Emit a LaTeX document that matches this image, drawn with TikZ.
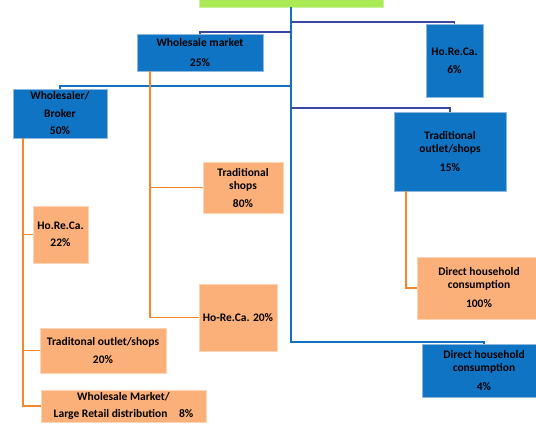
\documentclass[tikz,border=0pt]{standalone}
\usepackage{fontspec}
\setmainfont{Carlito}
\definecolor{boxblue}{HTML}{0F74C4}
\definecolor{boxblueedge}{HTML}{8FB8E0}
\definecolor{boxorange}{HTML}{FBB07A}
\definecolor{boxorangeedge}{HTML}{FDD5B5}
\definecolor{lineblue}{HTML}{1470C4}
\definecolor{linedark}{HTML}{3848A4}
\definecolor{lineorange}{HTML}{F7862A}
\definecolor{topgreen}{HTML}{AAEA55}
\begin{document}
\begin{tikzpicture}[x=1pt,y=-1pt,
  boxbase/.style={rectangle, inner sep=0pt, align=center, text=black,
    font=\bfseries\fontsize{11.5}{13}\selectfont, line width=0.6pt},
  bluebox/.style={boxbase, fill=boxblue, draw=boxblueedge},
  orangebox/.style={boxbase, fill=boxorange, draw=boxorangeedge},
  greenbox/.style={rectangle, inner sep=0pt, fill=topgreen, draw=topgreen!60!white, line width=0.6pt},
  blueline/.style={draw=lineblue, line width=1.6pt},
  darkline/.style={draw=linedark, line width=1.6pt},
  orangeline/.style={draw=lineorange, line width=1.8pt}]
\useasboundingbox (0,0) rectangle (536,424);
\fill[white] (0,0) rectangle (536,424);

% nodes
\node[greenbox, minimum width=184pt, minimum height=28pt] (green) at (291,-7) {};
\node[bluebox, minimum width=126pt, minimum height=37pt] (wm) at (200,52.5) {Wholesale market\\[7pt]25\%};
\node[bluebox, minimum width=57pt, minimum height=73pt] (ho6) at (454.5,60.5) {Ho.Re.Ca.\\[5pt]6\%};
\node[bluebox, minimum width=94pt, minimum height=49pt] (wb) at (60,113.5) {Wholesaler/\\[4.5pt]Broker\\[4.5pt]50\%};
\node[bluebox, minimum width=112pt, minimum height=79pt] (tos15) at (450,151.5) {Traditional\\outlet/shops\\[6pt]15\%};
\node[orangebox, minimum width=80pt, minimum height=51pt] (ts80) at (243,187.5) {Traditional\\shops\\[5pt]80\%};
\node[orangebox, minimum width=78pt, minimum height=67pt] (hr20) at (238,317.5) {Ho-Re.Ca. 20\%};
\node[orangebox, minimum width=55pt, minimum height=57pt] (hr22) at (60.5,234.5) {Ho.Re.Ca.\\[4pt]22\%};
\node[orangebox, minimum width=126pt, minimum height=45pt] (to20) at (103,350.5) {Traditonal outlet/shops\\[5pt]20\%};
\node[orangebox, minimum width=165pt, minimum height=32pt] (wmlr) at (123.5,406) {Wholesale Market/\\[4pt]Large Retail distribution\hspace{1em}8\%};
\node[orangebox, minimum width=124pt, minimum height=62pt] (dh100) at (479,288) {Direct household\\consumption\\[6pt]100\%};
\node[bluebox, minimum width=124pt, minimum height=53pt] (dh4) at (484,370.5) {Direct household\\consumption\\[6pt]4\%};

% blue connectors from the top box
\draw[blueline] (green.south) |- ([yshift=2pt]dh4.north) -- (dh4.north);
\draw[darkline] ([yshift=2pt]ho6.north -| green.south) -| (ho6.north);
\draw[darkline] ([yshift=2pt]wm.north -| green.south) -| (wm.north);
\draw[blueline] ([yshift=3pt]wb.north -| green.south) -| (wb.north);
\draw[darkline] ([yshift=4pt]tos15.north -| green.south) -| (tos15.north);

% orange connectors
\coordinate (wmo) at ([xshift=13pt]wm.south west);
\draw[orangeline] (wmo) |- (ts80.west);
\draw[orangeline] (wmo) |- (hr20.west);
\coordinate (wbo) at ([xshift=10pt]wb.south west);
\draw[orangeline] (wbo) |- (hr22.west);
\draw[orangeline] (wbo) |- (to20.west);
\draw[orangeline] (wbo) |- (wmlr.west);
\coordinate (tso) at ([xshift=12pt]tos15.south west);
\draw[orangeline] (tso) |- (dh100.west);
\end{tikzpicture}
\end{document}
